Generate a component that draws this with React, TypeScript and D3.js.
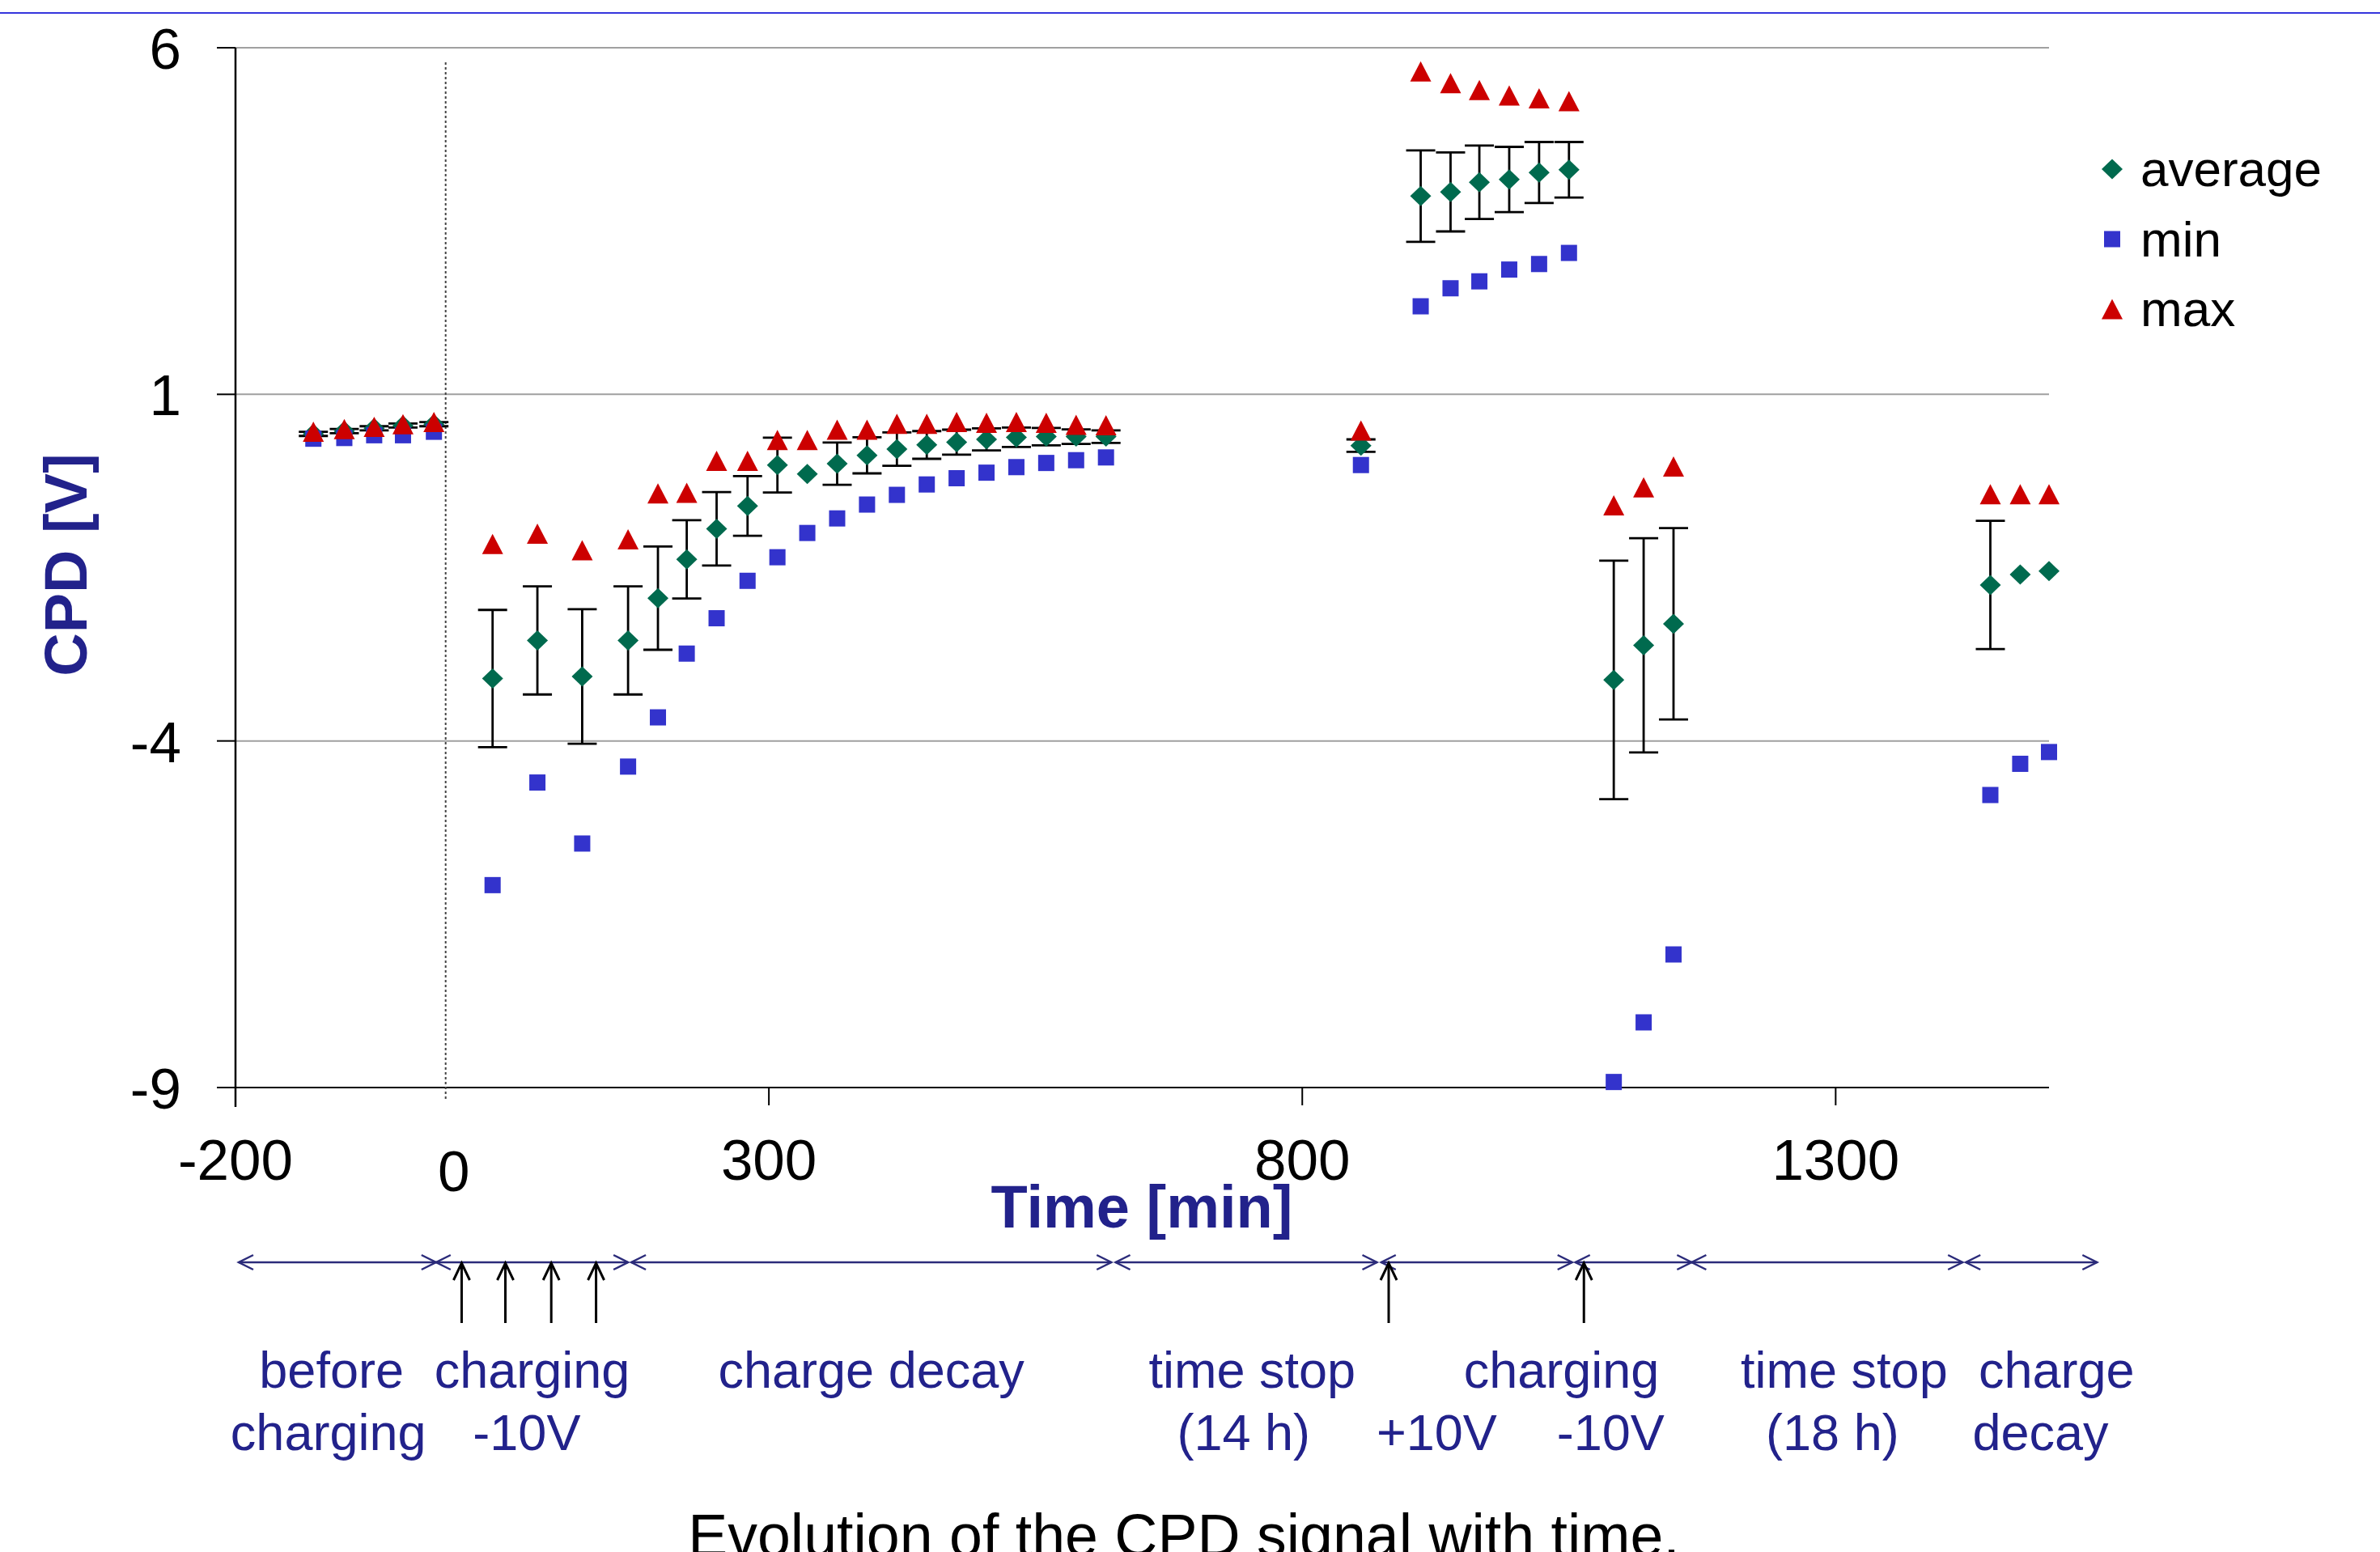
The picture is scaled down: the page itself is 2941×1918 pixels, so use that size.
import React from 'react';
import * as d3 from 'd3';

const timeMin = [-127, -98, -70, -43, -14, 41, 83, 125, 168, 196, 223, 251, 280, 308, 336, 364, 392, 420, 448, 476, 504, 532, 560, 588, 616, 855, 911, 939, 966, 994, 1022, 1050, 1092, 1120, 1148, 1445, 1473, 1500];
const avgCPD = [0.43, 0.47, 0.51, 0.55, 0.57, -3.1, -2.55, -3.07, -2.55, -1.94, -1.38, -0.94, -0.61, -0.02, -0.15, 0.0, 0.12, 0.21, 0.27, 0.31, 0.35, 0.38, 0.39, 0.39, 0.39, 0.26, 3.86, 3.92, 4.06, 4.1, 4.2, 4.24, -3.12, -2.62, -2.31, -1.75, -1.6, -1.55];
const minCPD = [0.36, 0.37, 0.41, 0.41, 0.46, -6.08, -4.6, -5.48, -4.37, -3.66, -2.74, -2.23, -1.69, -1.35, -1.0, -0.79, -0.59, -0.45, -0.3, -0.21, -0.13, -0.05, 0.01, 0.05, 0.09, -0.02, 2.27, 2.53, 2.63, 2.8, 2.88, 3.04, -8.92, -8.06, -7.08, -4.78, -4.33, -4.16];
const maxCPD = [0.46, 0.5, 0.53, 0.57, 0.6, -1.16, -1.01, -1.25, -1.09, -0.43, -0.42, 0.04, 0.04, 0.34, 0.34, 0.49, 0.49, 0.575, 0.575, 0.6, 0.59, 0.6, 0.59, 0.56, 0.555, 0.48, 5.66, 5.49, 5.39, 5.31, 5.27, 5.23, -0.6, -0.34, -0.04, -0.44, -0.44, -0.44];
const stdCPD: (number | null)[] = [0.03, 0.03, 0.03, 0.03, 0.03, 0.99, 0.78, 0.97, 0.78, 0.745, 0.565, 0.53, 0.43, 0.395, null, 0.305, 0.26, 0.24, 0.2, 0.18, 0.16, 0.14, 0.125, 0.105, 0.09, 0.09, 0.66, 0.57, 0.53, 0.47, 0.44, 0.4, 1.72, 1.545, 1.38, 0.925, null, null];

const xTicks = [-200, 300, 800, 1300];
const yTicks = [-9, -4, 1, 6];

// timeline below the chart (in minutes)
const phaseSpans = [[-197, -12], [-12, 168], [171, 621], [625, 870], [874, 1053], [1056, 1165], [1165, 1419], [1422, 1545]];
const chargeArrows = [12, 53, 96, 138, 881, 1064];
const phaseLine1 = ['before', 'charging', 'charge decay', 'time stop', 'charging', 'time stop', 'charge'];
const phaseLine1At = [-110, 78, 396, 753, 1043, 1308, 1507];
const phaseLine2 = ['charging', '-10V', '(14 h)', '+10V', '-10V', '(18 h)', 'decay'];
const phaseLine2At = [-113, 73, 745, 926, 1089, 1297, 1492];

const legendItems = ['average', 'min', 'max'];

const W = 2941;
const H = 1918;
const FONT = '"Liberation Sans", Arial, Helvetica, sans-serif';
const NAVY = '#22228b';
const GREEN = '#006a4e';
const BLUE = '#3333cc';
const RED = '#cc0000';

const diamond = 'M0,-12.5 L13,0 L0,12.5 L-13,0 Z';
const triangle = 'M0,-12.5 L13,12.5 L-13,12.5 Z';

const x = d3.scaleLinear().domain([-200, 1500]).range([291, 2532]);
const y = d3.scaleLinear().domain([-9, 6]).range([1344, 59]);

const Marker = ({ kind, cx, cy }: { kind: string; cx: number; cy: number }) => {
    if (kind === 'min') return <rect x={cx - 10} y={cy - 10} width={20} height={20} fill={BLUE} />;
    if (kind === 'max') return <path d={triangle} transform={`translate(${cx},${cy})`} fill={RED} />;
    return <path d={diamond} transform={`translate(${cx},${cy})`} fill={GREEN} />;
};

const App = () => {
    const lineY = 1560;
    const head = (tx: number, dir: number) =>
        `M${tx + dir * 18},${lineY - 9} L${tx},${lineY} L${tx + dir * 18},${lineY + 9}`;

    return (
        <svg width={W} height={H} style={{ position: 'absolute', left: 0, top: 0, background: '#fff', display: 'block' }}
            fontFamily={FONT}>
            <line x1={0} x2={W} y1={16} y2={16} stroke="#3535dd" strokeWidth={2} />

            {/* gridlines */}
            {yTicks.filter(t => t > -9).map(t => (
                <line key={'g' + t} x1={x(-200)} x2={x(1500)} y1={y(t)} y2={y(t)} stroke="#a0a0a0" strokeWidth={2} />
            ))}
            {/* axes */}
            <line x1={x(-200)} x2={x(1500)} y1={y(-9)} y2={y(-9)} stroke="#000" strokeWidth={2} />
            <line x1={x(-200)} x2={x(-200)} y1={y(6)} y2={y(-9) + 24} stroke="#000" strokeWidth={2.5} />
            {yTicks.map(t => (
                <g key={'yt' + t}>
                    <line x1={x(-200) - 23} x2={x(-200)} y1={y(t)} y2={y(t)} stroke="#000" strokeWidth={2} />
                    <text x={224} y={y(t) + 26} textAnchor="end" fontSize={71} fill="#000">{t}</text>
                </g>
            ))}
            {xTicks.map(t => (
                <g key={'xt' + t}>
                    <line x1={x(t)} x2={x(t)} y1={y(-9)} y2={y(-9) + 22} stroke="#000" strokeWidth={2} />
                    <text x={x(t)} y={1458} textAnchor="middle" fontSize={71} fill="#000">{t}</text>
                </g>
            ))}
            <text x={x(0) + 6} y={1472} textAnchor="middle" fontSize={71} fill="#000">0</text>

            {/* dotted line at charging start */}
            <line x1={x(-3)} x2={x(-3)} y1={y(5.79)} y2={y(-9.17)} stroke="#444" strokeWidth={2} strokeDasharray="3,3" />

            {/* error bars */}
            {timeMin.map((t, i) => {
                const s = stdCPD[i];
                if (s == null) return null;
                const cx = x(t);
                return (
                    <g key={'e' + i} stroke="#000" strokeWidth={2.8}>
                        <line x1={cx} x2={cx} y1={y(avgCPD[i] + s)} y2={y(avgCPD[i] - s)} />
                        <line x1={cx - 18} x2={cx + 18} y1={y(avgCPD[i] + s)} y2={y(avgCPD[i] + s)} />
                        <line x1={cx - 18} x2={cx + 18} y1={y(avgCPD[i] - s)} y2={y(avgCPD[i] - s)} />
                    </g>
                );
            })}
            {timeMin.map((t, i) => <Marker key={'a' + i} kind="average" cx={x(t)} cy={y(avgCPD[i])} />)}
            {timeMin.map((t, i) => <Marker key={'m' + i} kind="min" cx={x(t)} cy={y(minCPD[i])} />)}
            {timeMin.map((t, i) => <Marker key={'M' + i} kind="max" cx={x(t)} cy={y(maxCPD[i])} />)}

            {/* legend */}
            {legendItems.map((name, i) => (
                <g key={name}>
                    <Marker kind={name} cx={2610} cy={209 + i * 86.5} />
                    <text x={2645} y={209 + i * 86.5 + 21} fontSize={62} fill="#000">{name}</text>
                </g>
            ))}

            {/* axis titles */}
            <text x={1411} y={1517} textAnchor="middle" fontSize={74} fontWeight="bold" fill={NAVY}>Time [min]</text>
            <text transform="translate(107,698) rotate(-90)" textAnchor="middle" fontSize={74} fontWeight="bold" fill={NAVY}>CPD [V]</text>

            {/* timeline */}
            <g stroke="#2b2b7a" fill="none" strokeWidth={2.5}>
                {phaseSpans.map(([a, b], i) => (
                    <g key={'ph' + i}>
                        <line x1={x(a)} x2={x(b)} y1={lineY} y2={lineY} />
                        <path d={head(x(a), 1)} />
                        <path d={head(x(b), -1)} />
                    </g>
                ))}
            </g>
            <g stroke="#000" fill="none" strokeWidth={3}>
                {chargeArrows.map((t, i) => (
                    <g key={'ar' + i}>
                        <line x1={x(t)} x2={x(t)} y1={lineY + 1} y2={1635} />
                        <path d={`M${x(t) - 10},${lineY + 22} L${x(t)},${lineY + 1} L${x(t) + 10},${lineY + 22}`} />
                    </g>
                ))}
            </g>
            {phaseLine1.map((s, i) => (
                <text key={'l1' + i} x={x(phaseLine1At[i])} y={1715} textAnchor="middle" fontSize={63} fill={NAVY}>{s}</text>
            ))}
            {phaseLine2.map((s, i) => (
                <text key={'l2' + i} x={x(phaseLine2At[i])} y={1792} textAnchor="middle" fontSize={63} fill={NAVY}>{s}</text>
            ))}

            <text x={1463} y={1923} textAnchor="middle" fontSize={73.5} fill="#000">Evolution of the CPD signal with time.</text>
        </svg>
    );
};

export default App;
